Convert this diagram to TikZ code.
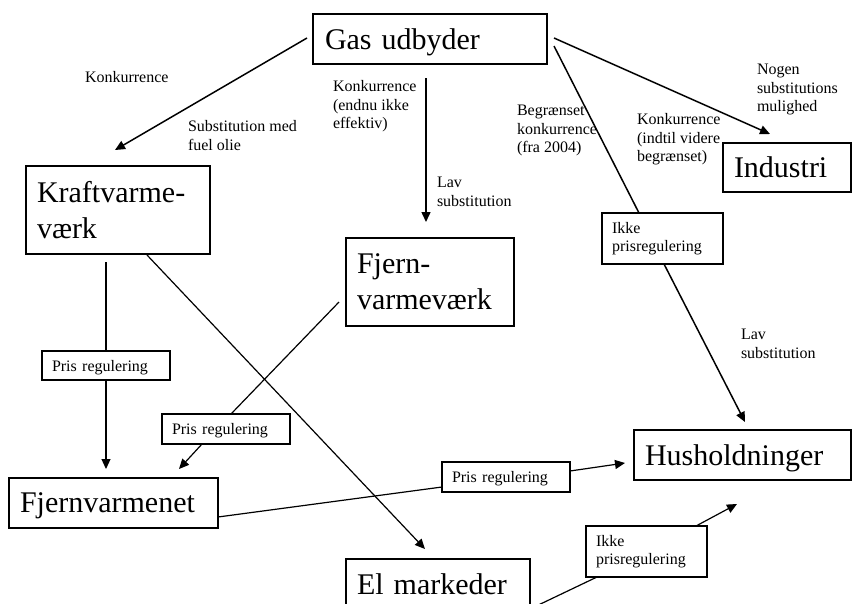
\documentclass[tikz,border=0pt]{standalone}
\usepackage{fontspec}
\setmainfont{Liberation Serif}
\usetikzlibrary{calc,arrows.meta}
\newcommand\dgBig{\fontsize{30}{36}\selectfont}
\newcommand\dgSmall{\fontsize{16}{18.5}\selectfont}
\tikzset{
  bigbox/.style={draw, line width=1.6pt, anchor=north west, inner xsep=11pt, inner ysep=0pt,
    outer sep=0pt, align=left, font=\dgBig},
  smallbox/.style={draw, line width=1.4pt, anchor=north west, inner xsep=10pt, inner ysep=0pt,
    outer sep=0pt, align=left, font=\dgSmall},
  oneline/.style={text depth=0pt},
  lbl/.style={inner sep=0pt, outer sep=0pt, anchor=north west, align=left, font=\dgSmall},
  thick line/.style={line width=1.5pt},
  thin line/.style={line width=1.2pt},
  arr/.style={-{Triangle[length=10pt,width=9pt]}}
}
\begin{document}
\begin{tikzpicture}[x=1pt,y=-1pt]
\useasboundingbox (0,0) rectangle (852,603);
% main boxes
\node[bigbox, oneline, inner xsep=12pt, text width=210pt, minimum height=50pt] (gas) at (313,14) {Gas udbyder};
\node[bigbox, text width=162pt, minimum height=88pt] (kraft) at (26,166) {Kraftvarme-\\værk};
\node[bigbox, text width=146pt, minimum height=88pt] (fjern) at (346,238) {Fjern-\\varmeværk};
\node[bigbox, oneline, text width=106pt, minimum height=49pt] (ind) at (723,143) {Industri};
\node[bigbox, oneline, text width=195pt, minimum height=50pt] (hus) at (634,430) {Husholdninger};
\node[bigbox, oneline, text width=187pt, minimum height=50pt] (fjv) at (9,478) {Fjernvarmenet};
\node[bigbox, oneline, text width=162pt, minimum height=50pt] (el) at (346,559) {El markeder};
% small boxes
\node[smallbox, oneline, text width=108pt, minimum height=29pt] (pr1) at (42,351) {Pris regulering};
\node[smallbox, oneline, text width=108pt, minimum height=30pt] (pr2) at (162,414) {Pris regulering};
\node[smallbox, oneline, text width=108pt, minimum height=30pt] (pr3) at (442,462) {Pris regulering};
\node[smallbox, text width=101pt, minimum height=51pt] (ik1) at (602,213) {Ikke\\prisregulering};
\node[smallbox, text width=101pt, minimum height=51pt] (ik2) at (586,526) {Ikke\\prisregulering};
% free labels (top = first baseline - 12.95)
\node[lbl] (l1) at (85,70) {\strut Konkurrence};
\node[lbl] (l2) at (188,119) {\strut Substitution med\\fuel olie};
\node[lbl] (l3) at (333,79) {\strut Konkurrence\\(endnu ikke\\effektiv)};
\node[lbl] (l4) at (437,175) {\strut Lav\\substitution};
\node[lbl] (l5) at (517,103) {\strut Begrænset\\konkurrence\\(fra 2004)};
\node[lbl] (l6) at (637,112) {\strut Konkurrence\\(indtil videre\\begrænset)};
\node[lbl] (l7) at (757,62) {\strut Nogen\\substitutions\\mulighed};
\node[lbl] (l8) at (741,327) {\strut Lav\\substitution};
% connectors
\draw[thick line, arr] ($(gas.west)+(-6,-1)$) -- ($(kraft.north)+(-3,-16)$);
\draw[thick line, arr] ($(gas.south)+(-4,14)$) -- ($(fjern.north)+(-4,-16)$);
\draw[thick line, arr] ($(gas.east)+(7,-1)$) -- ($(ind.north)+(-17,-9)$);
\draw[thick line] ($(gas.east)+(7,7)$) -- ($(ik1.north)+(-23.5,0)$);
\draw[thick line, arr] ($(ik1.south)+(1.5,0)$) -- ($(hus.north)+(2.5,-8)$);
\draw[thin line] ($(kraft.south)+(-12,8)$) -- (pr1.north);
\draw[thin line, arr] (pr1.south) -- ($(fjv.north)+(-7.5,-9)$);
\draw[thin line] ($(fjern.west)+(-7,20)$) -- ($(pr2.north)+(5,0)$);
\draw[thin line, arr] ($(pr2.south)+(-24,0)$) -- ($(fjv.north)+(65.5,-9)$);
\draw[thin line, arr] ($(kraft.south)+(29,1)$) -- ($(el.north)+(-13,-10)$);
\draw[thin line] ($(fjv.east)+(0,14)$) -- ($(pr3.west)+(0,10)$);
\draw[thin line, arr] ($(pr3.east)+(0,-6)$) -- ($(hus.west)+(-9,8)$);
\draw[thin line] (el.south east) -- ($(ik2.south west)+(11,0)$);
\draw[thin line, arr] ($(ik2.north east)+(-11,0)$) -- ($(hus.south)+(-5.5,24)$);
\end{tikzpicture}
\end{document}
